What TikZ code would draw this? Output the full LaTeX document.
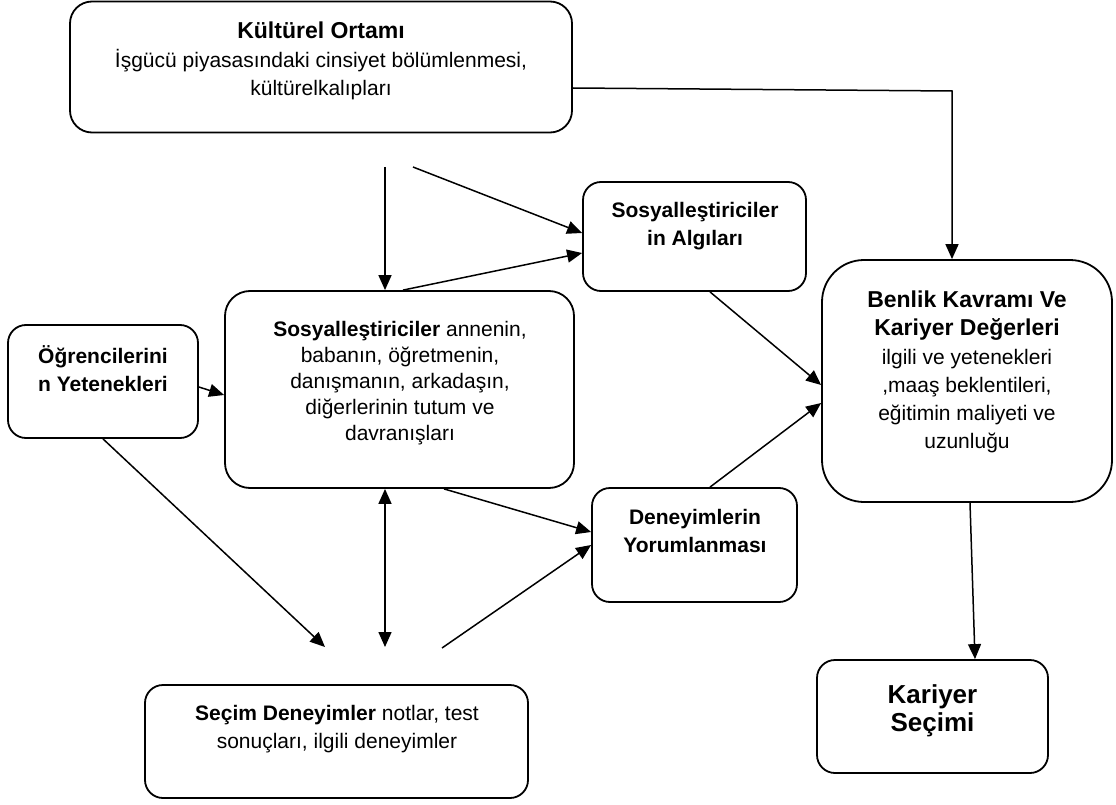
\documentclass[tikz,border=0pt]{standalone}
\usepackage{fontspec}
\setmainfont{Liberation Sans}
\usetikzlibrary{arrows.meta}
\newcommand{\bodyf}{\fontsize{21}{28}\selectfont}
\newcommand{\titf}{\fontsize{23}{29}\selectfont\bfseries}
\newcommand{\bigf}{\fontsize{26}{33}\selectfont\bfseries}
\newcommand{\boldf}{\fontsize{21}{28}\selectfont\bfseries}
\begin{document}
\begin{tikzpicture}[x=1pt,y=-1pt,
  box/.style={draw, line width=1.8pt, inner sep=0pt},
  lbl/.style={align=center, inner sep=0pt, font=\bodyf},
  conn/.style={line width=1.5pt, -{Triangle[length=15pt,width=13pt]}},
  dconn/.style={line width=1.5pt, {Triangle[length=15pt,width=13pt]}-{Triangle[length=15pt,width=13pt]}},
  plain/.style={line width=1.5pt}
]
\useasboundingbox (0,0) rectangle (1116,805);

% boxes
\node[box, rounded corners=22pt, minimum width=502pt, minimum height=131pt] (kul) at (321,67) {};
\node[box, rounded corners=18pt, minimum width=223pt, minimum height=109pt] (algi) at (694.5,236.5) {};
\node[box, rounded corners=42pt, minimum width=290pt, minimum height=242pt] (ben) at (967,381) {};
\node[box, rounded corners=18pt, minimum width=190pt, minimum height=113pt] (ogr) at (103,381.5) {};
\node[box, rounded corners=25pt, minimum width=349pt, minimum height=197pt] (soc) at (399.5,389.5) {};
\node[box, rounded corners=18pt, minimum width=205pt, minimum height=114pt] (den) at (694.5,545) {};
\node[box, rounded corners=18pt, minimum width=383pt, minimum height=113pt] (sec) at (336.5,741.5) {};
\node[box, rounded corners=18pt, minimum width=231pt, minimum height=113pt] (kar) at (932.5,716.5) {};

% texts
\node[lbl] (kulT) at (321,61) {\titf Kültürel Ortamı\\[1pt]\bodyf İşgücü piyasasındaki cinsiyet bölümlenmesi,\\\bodyf kültürelkalıpları};
\node[lbl] (algiT) at (695,226) {\boldf Sosyalleştiriciler\\\boldf in Algıları};
\node[lbl] (benT) at (967,372) {\titf Benlik Kavramı Ve\\\titf Kariyer Değerleri\\[1pt]\bodyf ilgili ve yetenekleri\\\bodyf ,maaş beklentileri,\\\bodyf eğitimin maliyeti ve\\\bodyf uzunluğu};
\node[lbl] (ogrT) at (103,369) {\boldf Öğrencilerini\\\boldf n Yetenekleri};
\node[lbl] (socT) at (400,383) {\textbf{Sosyalleştiriciler} annenin,\\[-2pt]babanın, öğretmenin,\\[-2pt]danışmanın, arkadaşın,\\[-2pt]diğerlerinin tutum ve\\[-2pt]davranışları};
\node[lbl] (denT) at (695,531) {\boldf Deneyimlerin\\\boldf Yorumlanması};
\node[lbl] (secT) at (337,729) {\textbf{Seçim Deneyimler} notlar, test\\sonuçları, ilgili deneyimler};
\node[lbl] (karT) at (932.5,711) {\bigf Kariyer\\\bigf Seçimi};

% free ends
\coordinate (c1) at (385,167);
\coordinate (c2) at (413,167);
\coordinate (kb) at (952,91);
\coordinate (e1) at (325,647);
\coordinate (e2) at (385,647);
\coordinate (e3) at (442,648);

% connectors
\draw[conn] (c1) -- (c1 |- soc.north);
\draw[conn] (c2) -- ([yshift=3.5pt]algi.west);
\draw[conn] ([xshift=3.5pt]soc.north) -- ([yshift=-16.5pt]algi.west);
\draw[conn] ([yshift=-21pt]kul.east) -- (kb) -- (kb |- ben.north);
\draw[conn] ([xshift=15.5pt]algi.south) -- ([yshift=-4pt]ben.west);
\draw[conn] ([xshift=15.5pt]den.north) -- ([yshift=-22pt]ben.west);
\draw[conn] ([yshift=-5.5pt]ogr.east) -- ([yshift=-5.5pt]soc.west);
\draw[conn] (ogr.south) -- (e1);
\draw[dconn] (soc.south -| e2) -- (e2);
\draw[conn] ([xshift=44.5pt]soc.south) -- ([yshift=13pt]den.west);
\draw[conn] (e3) -- (den.west);
\draw[conn] ([xshift=3pt]ben.south) -- ([xshift=42.5pt]kar.north);
\end{tikzpicture}
\end{document}
